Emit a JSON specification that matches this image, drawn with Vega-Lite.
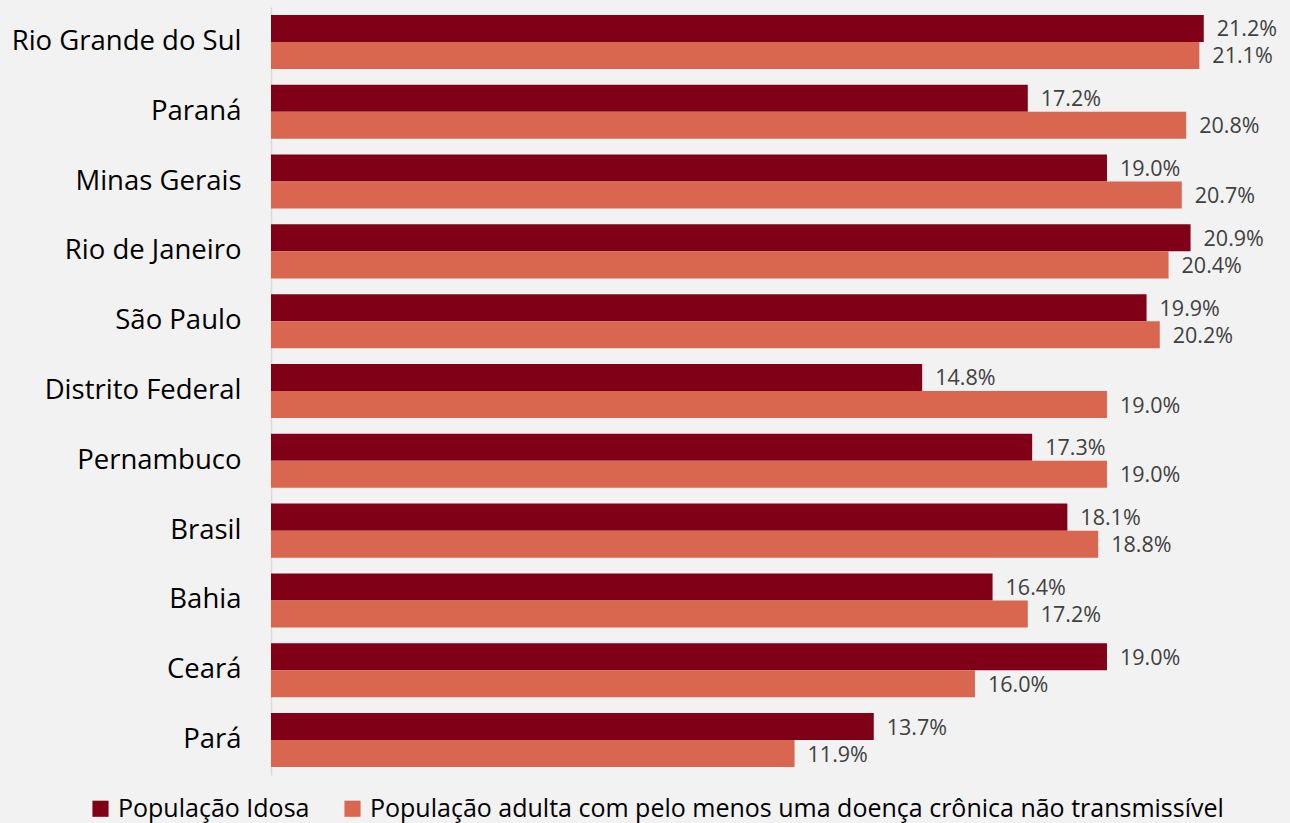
{
  "$schema": "https://vega.github.io/schema/vega-lite/v6.json",
  "width": 1019,
  "height": 768,
  "autosize": {"type": "none"},
  "padding": {"left": 271, "top": 7, "right": 0, "bottom": 48},
  "background": "#f2f2f2",
  "config": {
    "view": {"stroke": null},
    "font": "Open Sans"
  },
  "data": {
    "values": [
      {"estado": "Rio Grande do Sul", "serie": "População Idosa", "valor": 0.212},
      {"estado": "Rio Grande do Sul", "serie": "População adulta com pelo menos uma doença crônica não transmissível", "valor": 0.211},
      {"estado": "Paraná", "serie": "População Idosa", "valor": 0.172},
      {"estado": "Paraná", "serie": "População adulta com pelo menos uma doença crônica não transmissível", "valor": 0.208},
      {"estado": "Minas Gerais", "serie": "População Idosa", "valor": 0.190},
      {"estado": "Minas Gerais", "serie": "População adulta com pelo menos uma doença crônica não transmissível", "valor": 0.207},
      {"estado": "Rio de Janeiro", "serie": "População Idosa", "valor": 0.209},
      {"estado": "Rio de Janeiro", "serie": "População adulta com pelo menos uma doença crônica não transmissível", "valor": 0.204},
      {"estado": "São Paulo", "serie": "População Idosa", "valor": 0.199},
      {"estado": "São Paulo", "serie": "População adulta com pelo menos uma doença crônica não transmissível", "valor": 0.202},
      {"estado": "Distrito Federal", "serie": "População Idosa", "valor": 0.148},
      {"estado": "Distrito Federal", "serie": "População adulta com pelo menos uma doença crônica não transmissível", "valor": 0.190},
      {"estado": "Pernambuco", "serie": "População Idosa", "valor": 0.173},
      {"estado": "Pernambuco", "serie": "População adulta com pelo menos uma doença crônica não transmissível", "valor": 0.190},
      {"estado": "Brasil", "serie": "População Idosa", "valor": 0.181},
      {"estado": "Brasil", "serie": "População adulta com pelo menos uma doença crônica não transmissível", "valor": 0.188},
      {"estado": "Bahia", "serie": "População Idosa", "valor": 0.164},
      {"estado": "Bahia", "serie": "População adulta com pelo menos uma doença crônica não transmissível", "valor": 0.172},
      {"estado": "Ceará", "serie": "População Idosa", "valor": 0.190},
      {"estado": "Ceará", "serie": "População adulta com pelo menos uma doença crônica não transmissível", "valor": 0.160},
      {"estado": "Pará", "serie": "População Idosa", "valor": 0.137},
      {"estado": "Pará", "serie": "População adulta com pelo menos uma doença crônica não transmissível", "valor": 0.119}
    ]
  },
  "encoding": {
    "y": {
      "field": "estado",
      "type": "nominal",
      "sort": null,
      "scale": {"paddingInner": 0.226, "paddingOuter": 0.113},
      "axis": {
        "title": null,
        "ticks": false,
        "domainColor": "#d9d9d9",
        "domainWidth": 1.5,
        "labelFontSize": 27.5,
        "labelColor": "#000000",
        "labelPadding": 30,
        "labelLimit": 400,
        "labelFont": "Open Sans"
      }
    },
    "yOffset": {
      "field": "serie",
      "type": "nominal",
      "sort": ["População Idosa", "População adulta com pelo menos uma doença crônica não transmissível"],
      "scale": {"paddingInner": 0, "paddingOuter": 0}
    },
    "x": {
      "field": "valor",
      "type": "quantitative",
      "scale": {"domain": [0, 0.2316], "nice": false, "zero": true},
      "axis": null
    }
  },
  "layer": [
    {
      "mark": {"type": "bar"},
      "encoding": {
        "color": {
          "field": "serie",
          "type": "nominal",
          "sort": ["População Idosa", "População adulta com pelo menos uma doença crônica não transmissível"],
          "scale": {
            "domain": ["População Idosa", "População adulta com pelo menos uma doença crônica não transmissível"],
            "range": ["#800018", "#d9664f"]
          },
          "legend": {
            "title": null,
            "orient": "none",
            "direction": "horizontal",
            "legendX": -183,
            "legendY": 789,
            "symbolType": "square",
            "symbolSize": 260,
            "symbolStrokeWidth": 0,
            "labelFontSize": 25,
            "labelColor": "#000000",
            "labelFont": "Open Sans",
            "labelLimit": 1000,
            "columnPadding": 30,
            "symbolOffset": 0,
            "labelOffset": 5
          }
        }
      }
    },
    {
      "mark": {"type": "text", "align": "left", "baseline": "middle", "dx": 13, "dy": 2, "fontSize": 21.5, "color": "#404040", "font": "Open Sans"},
      "encoding": {
        "text": {"field": "valor", "type": "quantitative", "format": ".1%"}
      }
    }
  ]
}
